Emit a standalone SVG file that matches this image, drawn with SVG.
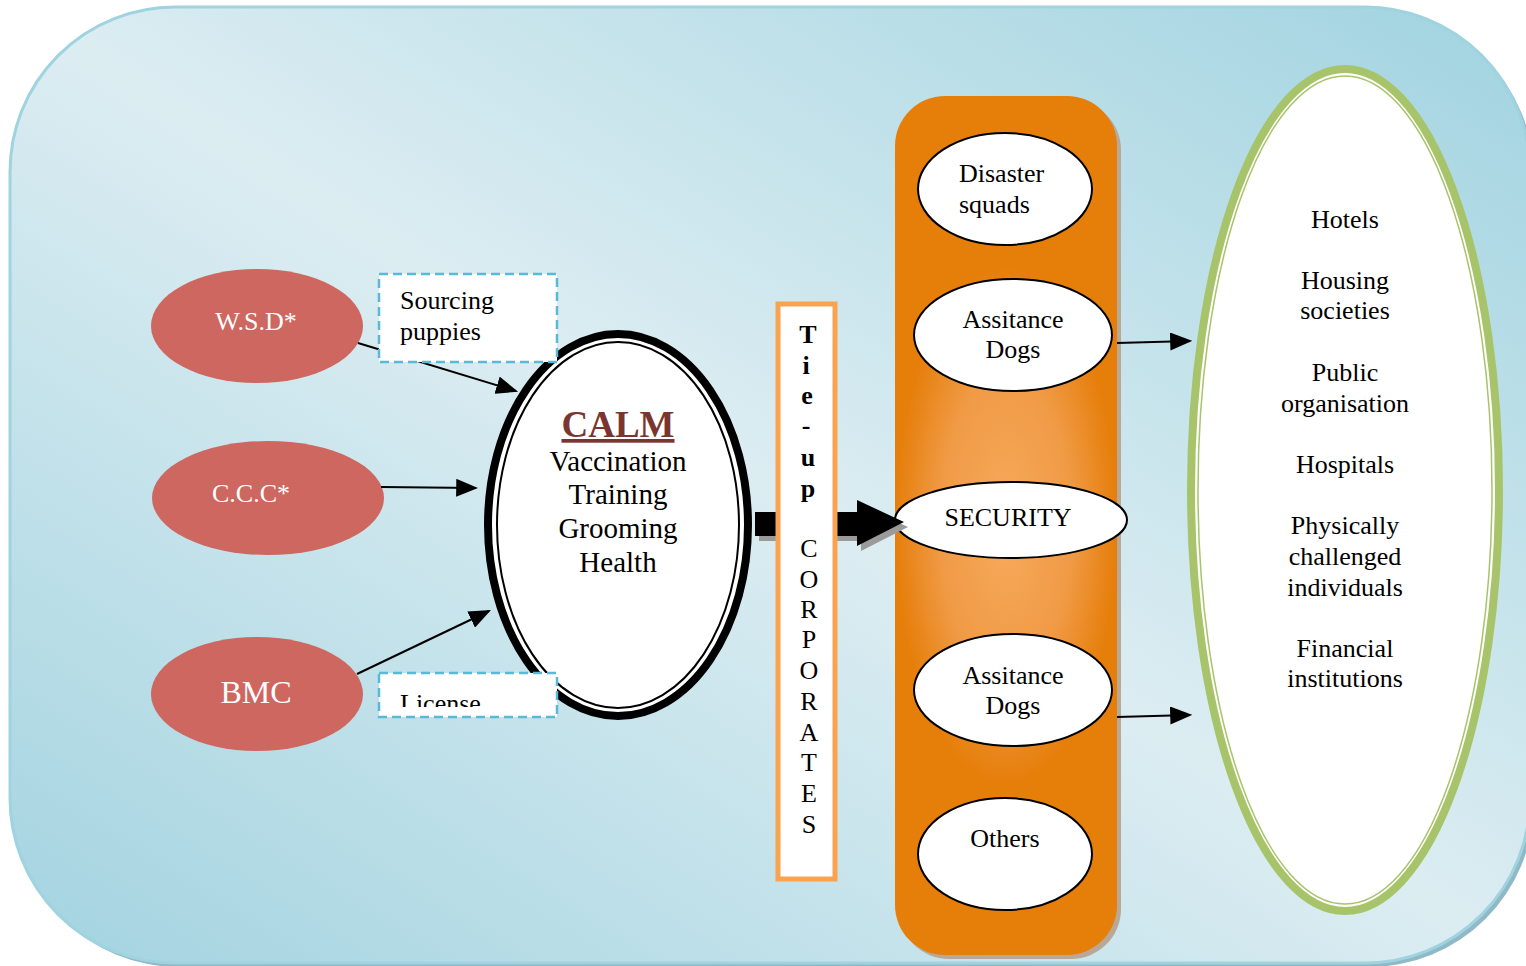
<svg xmlns="http://www.w3.org/2000/svg" width="1526" height="966" viewBox="0 0 1526 966">
<defs>
<linearGradient id="bg" x1="0" y1="1" x2="1" y2="0">
<stop offset="0" stop-color="#a2d3e0"/>
<stop offset="0.5" stop-color="#dcedf2"/>
<stop offset="1" stop-color="#a0d3e0"/>
</linearGradient>
<radialGradient id="org" cx="0.5" cy="0.5" r="0.5" gradientTransform="translate(0.5 0.5) scale(1 0.6) translate(-0.5 -0.5)">
<stop offset="0" stop-color="#f7aa5c"/>
<stop offset="0.6" stop-color="#f09a45"/>
<stop offset="1" stop-color="#e67e0a"/>
</radialGradient>
<marker id="ah2" viewBox="0 0 10 10" refX="9" refY="5" markerWidth="22" markerHeight="18" markerUnits="userSpaceOnUse" orient="auto" preserveAspectRatio="none">
<path d="M0,0 L10,5 L0,10 z" fill="#000"/>
</marker>
<clipPath id="licClip"><rect x="379" y="673" width="178" height="34"/></clipPath>
</defs>
<style>
.serif{font-family:"Liberation Serif","Times New Roman",serif;}
.t26{font-size:26px;fill:#000;}
.red{fill:#cd6760;}
.wt{fill:#fff;font-size:26px;}
.node{fill:#fff;stroke:#000;stroke-width:2;}
.dash{fill:#fff;stroke:#5ab9d4;stroke-width:2.5;stroke-dasharray:9 5;}
.conn{stroke:#000;stroke-width:2;fill:none;}
.mid{text-anchor:middle;}
</style>

<g id="background">
<rect x="14" y="11" width="1520" height="956" rx="165" fill="#8fb9c6"/>
<rect x="10" y="7" width="1520" height="956" rx="165" fill="url(#bg)" stroke="#9fd3df" stroke-width="3"/>
</g>

<g id="services-column">
<rect x="899" y="100" width="222" height="859" rx="50" fill="#b8a898"/>
<rect x="895" y="96" width="222" height="859" rx="50" fill="url(#org)"/>
</g>

<g id="node-disaster">
<ellipse class="node" cx="1005" cy="189" rx="87" ry="56"/>
<text class="serif t26" x="959" y="182">Disaster</text>
<text class="serif t26" x="959" y="213">squads</text>
</g>
<g id="node-assist1">
<ellipse class="node" cx="1013" cy="335" rx="99" ry="56"/>
<text class="serif t26 mid" x="1013" y="328">Assitance</text>
<text class="serif t26 mid" x="1013" y="358">Dogs</text>
</g>
<g id="node-security">
<ellipse class="node" cx="1011" cy="520" rx="116" ry="38"/>
<text class="serif t26 mid" x="1008" y="526">SECURITY</text>
</g>
<g id="node-assist2">
<ellipse class="node" cx="1013" cy="690" rx="99" ry="56"/>
<text class="serif t26 mid" x="1013" y="684">Assitance</text>
<text class="serif t26 mid" x="1013" y="714">Dogs</text>
</g>
<g id="node-others">
<ellipse class="node" cx="1005" cy="854" rx="87" ry="56"/>
<text class="serif t26 mid" x="1005" y="847">Others</text>
</g>

<g id="node-clients">
<ellipse cx="1345" cy="490" rx="154" ry="421" fill="#fff" stroke="#a8c46a" stroke-width="8"/>
<ellipse cx="1345" cy="490" rx="147" ry="414" fill="none" stroke="#a8c46a" stroke-width="1.5"/>
<g class="serif t26 mid">
<text x="1345" y="228">Hotels</text>
<text x="1345" y="289">Housing</text>
<text x="1345" y="319">societies</text>
<text x="1345" y="381">Public</text>
<text x="1345" y="412">organisation</text>
<text x="1345" y="473">Hospitals</text>
<text x="1345" y="534">Physically</text>
<text x="1345" y="565">challenged</text>
<text x="1345" y="596">individuals</text>
<text x="1345" y="657">Financial</text>
<text x="1345" y="687">institutions</text>
</g>
</g>

<g id="node-wsd">
<ellipse class="red" cx="257" cy="326" rx="106" ry="57"/>
<text class="serif wt mid" x="256" y="330">W.S.D*</text>
</g>
<g id="node-ccc">
<ellipse class="red" cx="268" cy="498" rx="116" ry="57"/>
<text class="serif wt mid" x="251" y="502">C.C.C*</text>
</g>
<g id="node-bmc">
<ellipse class="red" cx="257" cy="694" rx="106" ry="57"/>
<text class="serif mid" x="256" y="703" fill="#fff" font-size="32">BMC</text>
</g>

<g id="node-calm">
<ellipse cx="618" cy="525" rx="130" ry="191" fill="#fff" stroke="#000" stroke-width="8"/>
<ellipse cx="618" cy="525" rx="121" ry="183" fill="none" stroke="#000" stroke-width="2"/>
<text class="serif mid" x="618" y="437" font-size="37" font-weight="bold" fill="#7b3530" text-decoration="underline">CALM</text>
<g class="serif mid" font-size="29" fill="#000">
<text x="618" y="471">Vaccination</text>
<text x="618" y="504">Training</text>
<text x="618" y="538">Grooming</text>
<text x="618" y="572">Health</text>
</g>
</g>

<g id="connectors">
<line class="conn" x1="358" y1="343" x2="516" y2="391" marker-end="url(#ah2)"/>
<line class="conn" x1="381" y1="487" x2="476" y2="488" marker-end="url(#ah2)"/>
<line class="conn" x1="357" y1="674" x2="489" y2="611" marker-end="url(#ah2)"/>
<line class="conn" x1="1117" y1="343" x2="1190" y2="341" marker-end="url(#ah2)"/>
<line class="conn" x1="1117" y1="717" x2="1190" y2="715" marker-end="url(#ah2)"/>
<path d="M759,517 H861 V505 L908,527 L861,551 V541 H759 Z" fill="#9a9a9a"/>
<path d="M755,512 H857 V500 L904,522 L857,546 V536 H755 Z" fill="#000"/>
</g>

<g id="label-sourcing">
<rect class="dash" x="379" y="274" width="178" height="88"/>
<text class="serif t26" x="400" y="309">Sourcing</text>
<text class="serif t26" x="400" y="340">puppies</text>
</g>
<g id="label-license">
<rect class="dash" x="379" y="673" width="178" height="44"/>
<text class="serif t26" x="400" y="712" clip-path="url(#licClip)">License</text>
</g>

<g id="node-tieup">
<rect x="778" y="304" width="57" height="575" fill="#fff" stroke="#f9a350" stroke-width="5"/>
<g class="serif mid" font-size="26" fill="#000" font-weight="bold">
<text x="808" y="343">T</text>
<text x="806" y="374">i</text>
<text x="807" y="404">e</text>
<text x="806" y="434">-</text>
<text x="808" y="466">u</text>
<text x="808" y="497">p</text>
</g>
<g class="serif mid" font-size="26" fill="#000">
<text x="809" y="557">C</text>
<text x="809" y="588">O</text>
<text x="809" y="618">R</text>
<text x="809" y="648">P</text>
<text x="809" y="679">O</text>
<text x="809" y="710">R</text>
<text x="809" y="741">A</text>
<text x="809" y="771">T</text>
<text x="809" y="802">E</text>
<text x="809" y="833">S</text>
</g>
</g>
</svg>
